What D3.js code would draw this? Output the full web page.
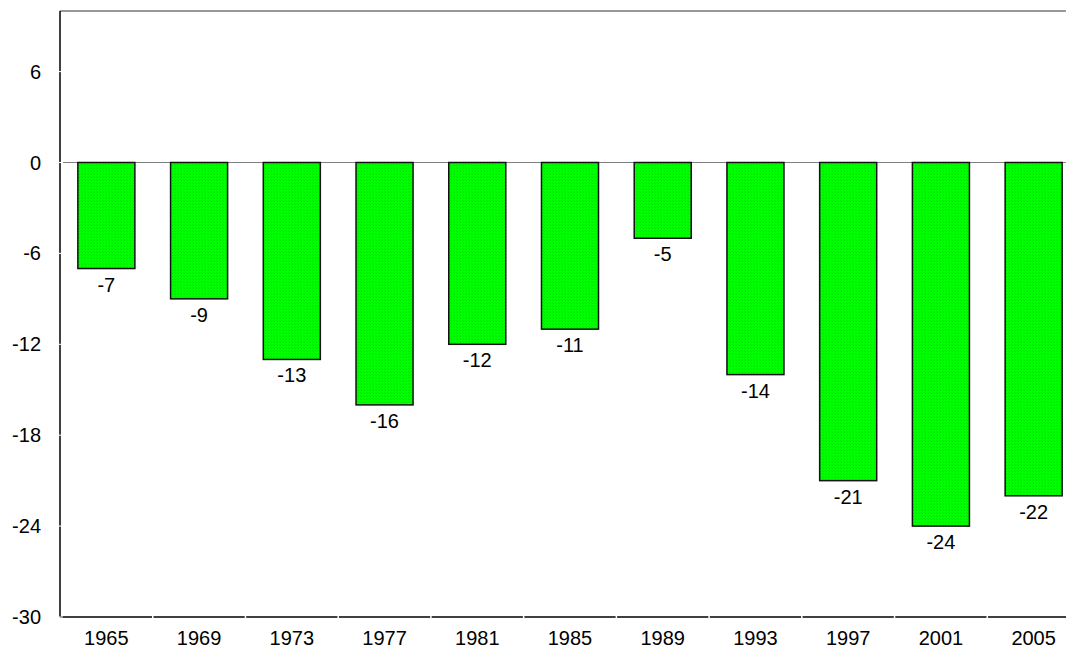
<!DOCTYPE html>
<html>
<head>
<meta charset="utf-8">
<script src="https://cdn.jsdelivr.net/npm/d3@7"></script>
<style>
  body { margin: 0; background: #fff; }
  text { font-family: "Liberation Sans", Arial, sans-serif; }
</style>
</head>
<body>
<script>
// chart size, same as the window
var width = 1066,
    height = 648;

// data
var years = ['1965', '1969', '1973', '1977', '1981', '1985', '1989', '1993', '1997', '2001', '2005'];
var values = [-7, -9, -13, -16, -12, -11, -5, -14, -21, -24, -22];
var yTicks = [-30, -24, -18, -12, -6, 0, 6];

// plot area (runs a little past the right edge, like the original)
var plotLeft = 60, plotRight = 1080, plotTop = 11, plotBottom = 617;

var svg = d3.select('body')
  .append('svg')
  .attr('width', width)
  .attr('height', height);

// dotted green fill for the bars
var defs = svg.append('defs');
var pat = defs.append('pattern')
  .attr('id', 'greenfill')
  .attr('patternUnits', 'userSpaceOnUse')
  .attr('width', 3)
  .attr('height', 3);
pat.append('rect').attr('width', 3).attr('height', 3).attr('fill', '#00ff00');
pat.append('rect').attr('x', 1).attr('y', 0).attr('width', 1).attr('height', 1).attr('fill', '#00e000');
pat.append('rect').attr('x', 0).attr('y', 2).attr('width', 1).attr('height', 1).attr('fill', '#00ea00');

var x = d3.scaleBand()
  .domain(years)
  .range([plotLeft, plotRight])
  .paddingInner(0.385)
  .paddingOuter(0.1925);

var y = d3.scaleLinear()
  .domain([-30, 10])
  .range([plotBottom, plotTop]);

// top border
svg.append('line')
  .attr('x1', plotLeft).attr('x2', width)
  .attr('y1', plotTop).attr('y2', plotTop)
  .attr('stroke', '#333')
  .attr('stroke-width', 1.2);

// zero line
svg.append('line')
  .attr('x1', plotLeft).attr('x2', width)
  .attr('y1', y(0)).attr('y2', y(0))
  .attr('stroke', '#808080')
  .attr('stroke-width', 1.2);

// bars
svg.selectAll('rect.bar')
  .data(values)
  .enter()
  .append('rect')
  .attr('class', 'bar')
  .attr('x', function(d, i) { return x(years[i]); })
  .attr('y', function(d) { return y(Math.max(0, d)); })
  .attr('width', x.bandwidth())
  .attr('height', function(d) { return Math.abs(y(d) - y(0)); })
  .attr('fill', 'url(#greenfill)')
  .attr('stroke', '#111')
  .attr('stroke-width', 1.5);

// value labels under the bars
svg.selectAll('text.val')
  .data(values)
  .enter()
  .append('text')
  .attr('class', 'val')
  .attr('x', function(d, i) { return x(years[i]) + x.bandwidth() / 2; })
  .attr('y', function(d) { return y(d) + 23; })
  .attr('text-anchor', 'middle')
  .style('font-size', '20px')
  .attr('fill', '#000')
  .text(function(d) { return d; });

// left axis
svg.append('line')
  .attr('x1', plotLeft).attr('x2', plotLeft)
  .attr('y1', plotTop).attr('y2', plotBottom)
  .attr('stroke', '#000')
  .attr('stroke-width', 1.5);

// bottom axis
svg.append('line')
  .attr('x1', plotLeft).attr('x2', width)
  .attr('y1', plotBottom).attr('y2', plotBottom)
  .attr('stroke', '#000')
  .attr('stroke-width', 1.5);

// white tick marks on the y axis
svg.selectAll('line.ytick')
  .data(yTicks)
  .enter()
  .append('line')
  .attr('class', 'ytick')
  .attr('x1', plotLeft - 3).attr('x2', plotLeft + 3)
  .attr('y1', function(d) { return y(d); })
  .attr('y2', function(d) { return y(d); })
  .attr('stroke', '#fff')
  .attr('stroke-width', 1);

// white tick marks between the categories
var step = x.step();
svg.selectAll('line.xtick')
  .data(years.slice(1))
  .enter()
  .append('line')
  .attr('class', 'xtick')
  .attr('x1', function(d) { return x(d) - step * 0.385 / 2; })
  .attr('x2', function(d) { return x(d) - step * 0.385 / 2; })
  .attr('y1', plotBottom - 3).attr('y2', plotBottom + 3)
  .attr('stroke', '#fff')
  .attr('stroke-width', 1.5);

// y tick labels
svg.selectAll('text.ylab')
  .data(yTicks)
  .enter()
  .append('text')
  .attr('class', 'ylab')
  .attr('x', 41)
  .attr('y', function(d) { return y(d) + 7; })
  .attr('text-anchor', 'end')
  .style('font-size', '20px')
  .text(function(d) { return d; });

// x tick labels
svg.selectAll('text.xlab')
  .data(years)
  .enter()
  .append('text')
  .attr('class', 'xlab')
  .attr('x', function(d) { return x(d) + x.bandwidth() / 2; })
  .attr('y', 645)
  .attr('text-anchor', 'middle')
  .style('font-size', '20px')
  .text(function(d) { return d; });
</script>
</body>
</html>
